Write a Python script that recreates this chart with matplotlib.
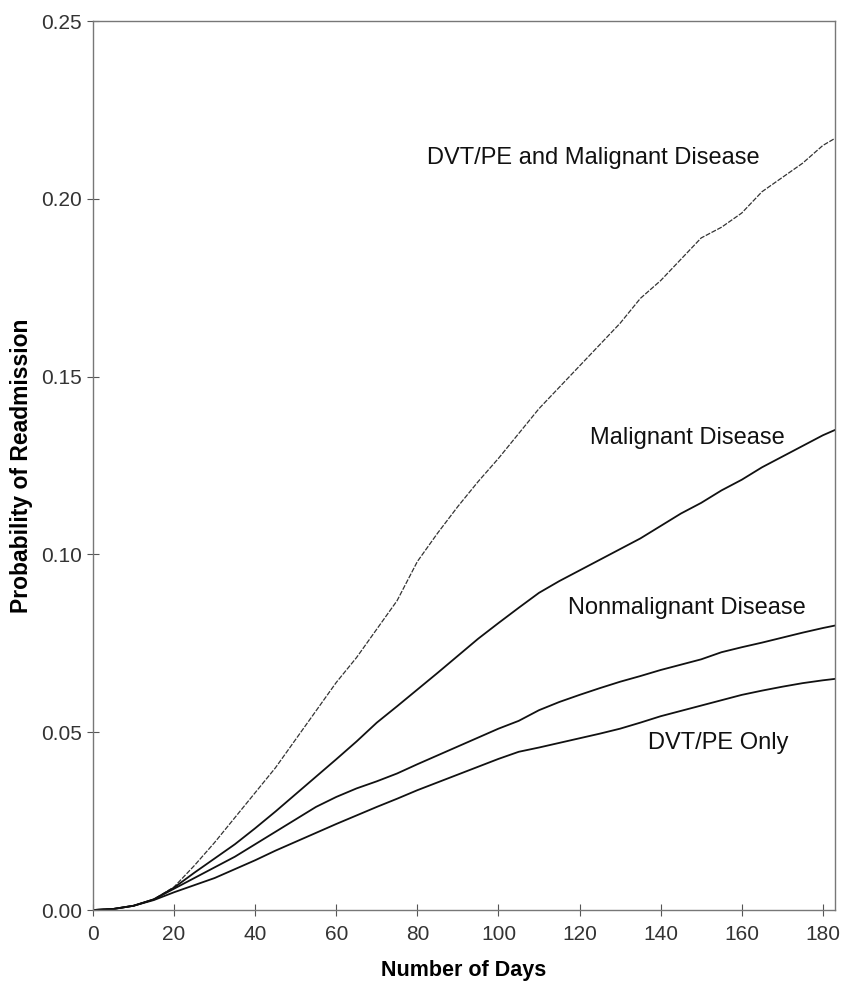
import numpy as np
import matplotlib
matplotlib.use("Agg")
import matplotlib.pyplot as plt
from matplotlib.ticker import FormatStrFormatter

plt.rcParams['font.family'] = ['Liberation Sans', 'DejaVu Sans']

# days since discharge
days = [0, 5, 10, 15, 20, 25, 30, 35, 40, 45, 50, 55, 60, 65, 70, 75, 80, 85, 90,
        95, 100, 105, 110, 115, 120, 125, 130, 135, 140, 145, 150, 155, 160, 165,
        170, 175, 180, 183]

# cumulative probability of readmission
dvt_malig = [0, 0.0003, 0.0012, 0.003, 0.0065, 0.0125, 0.019, 0.026, 0.033, 0.040,
             0.048, 0.056, 0.064, 0.071, 0.079, 0.087, 0.098, 0.106, 0.1135, 0.1205,
             0.127, 0.134, 0.141, 0.147, 0.153, 0.159, 0.165, 0.172, 0.177, 0.183,
             0.189, 0.192, 0.196, 0.202, 0.206, 0.210, 0.215, 0.217]
malig = [0, 0.0003, 0.0012, 0.003, 0.0063, 0.0105, 0.0145, 0.0185, 0.023, 0.0277,
         0.0326, 0.0375, 0.0424, 0.0474, 0.0527, 0.0573, 0.062, 0.0667, 0.0715, 0.0763,
         0.0807, 0.085, 0.0892, 0.0925, 0.0955, 0.0985, 0.1015, 0.1045, 0.108, 0.1115,
         0.1145, 0.118, 0.121, 0.1245, 0.1275, 0.1305, 0.1335, 0.135]
nonmalig = [0, 0.0003, 0.0012, 0.003, 0.006, 0.009, 0.012, 0.015, 0.0185, 0.022,
            0.0255, 0.029, 0.0318, 0.0342, 0.0362, 0.0384, 0.041, 0.0435, 0.046, 0.0485,
            0.051, 0.0532, 0.0562, 0.0585, 0.0605, 0.0624, 0.0642, 0.0658, 0.0675, 0.069,
            0.0705, 0.0725, 0.0739, 0.0752, 0.0766, 0.078, 0.0793, 0.080]
dvt_only = [0, 0.0003, 0.0012, 0.0028, 0.005, 0.007, 0.009, 0.0115, 0.014, 0.0167,
            0.0192, 0.0217, 0.0242, 0.0266, 0.029, 0.0313, 0.0337, 0.0359, 0.0381, 0.0403,
            0.0425, 0.0445, 0.0457, 0.047, 0.0483, 0.0496, 0.051, 0.0527, 0.0545, 0.056,
            0.0575, 0.059, 0.0605, 0.0617, 0.0628, 0.0638, 0.0646, 0.065]

labels = ["DVT/PE and Malignant Disease", "Malignant Disease",
          "Nonmalignant Disease", "DVT/PE Only"]
label_x = [82.3, 122.5, 117.1, 136.8]
label_y = [0.2115, 0.1327, 0.0849, 0.047]

fig = plt.figure(figsize=(8.43, 9.91), dpi=100)
ax = fig.add_axes([0.1103, 0.0817, 0.8802, 0.8971])

ax.plot(days, dvt_malig, color='#333333', lw=0.9, dashes=(4, 1.2))
ax.plot(days, malig, color='#111111', lw=1.3)
ax.plot(days, nonmalig, color='#111111', lw=1.3)
ax.plot(days, dvt_only, color='#111111', lw=1.3)

for txt, x, y in zip(labels, label_x, label_y):
    ax.text(x, y, txt, fontsize=17, ha='left', va='center', color='#111111')

ax.set_xlim(0, 183)
ax.set_ylim(0, 0.25)
ax.set_xticks(np.arange(0, 181, 20))
ax.set_yticks(np.arange(0, 0.251, 0.05))
ax.yaxis.set_major_formatter(FormatStrFormatter('%.2f'))
ax.tick_params(direction='inout', length=9, width=0.8, labelsize=15,
               colors='#555555', labelcolor='#333333')
ax.tick_params(axis='x', pad=6)
for s in ax.spines.values():
    s.set_color('#777777')
    s.set_linewidth(1.0)

ax.set_xlabel("Number of Days", fontsize=15.5, fontweight='bold', labelpad=12)
ax.set_ylabel("Probability of Readmission", fontsize=16.5, fontweight='bold', labelpad=6)

fig.savefig("out.png", dpi=100)
